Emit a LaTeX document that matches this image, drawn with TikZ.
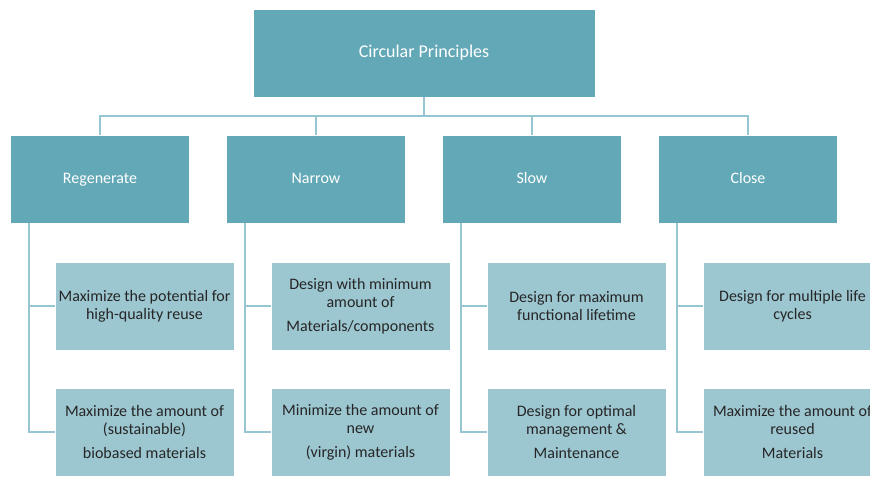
\documentclass[tikz,border=0pt]{standalone}
\usepackage{fontspec}
\setmainfont{Carlito}
\definecolor{darkteal}{RGB}{99,168,183}
\definecolor{lightteal}{RGB}{156,198,208}
\definecolor{linkblue}{RGB}{150,198,210}
\definecolor{textgray}{RGB}{38,38,38}
\begin{document}
\begin{tikzpicture}[x=1pt, y=-1pt]
    \useasboundingbox (0,0) rectangle (870,477);
    \clip (0,0) rectangle (870,477);
    \tikzstyle{every node}=[rectangle, draw=white, line width=0.6pt, inner sep=2pt, align=center]
    \tikzstyle{top}=[fill=darkteal, text=white, minimum width=342pt, minimum height=88pt, font=\fontsize{18}{21}\selectfont]
    \tikzstyle{principle}=[fill=darkteal, text=white, minimum width=179pt, minimum height=88pt, text height=11pt, text depth=3pt, font=\fontsize{16}{19}\selectfont]
    \tikzstyle{action}=[fill=lightteal, text=textgray, minimum width=179pt, minimum height=88pt, font=\fontsize{16}{18}\selectfont]
    \tikzstyle{link}=[linkblue, line width=1.5pt]

    \node[top] (cp) at (424,53) {Circular Principles};

    \node[principle] (reg) at (100,179) {Regenerate};
    \node[principle] (nar) at (316,179) {Narrow};
    \node[principle] (slo) at (532,179) {Slow};
    \node[principle] (clo) at (748,179) {Close};

    \node[action] (reg1) at (144.5,306) {Maximize the potential for\\high-quality reuse};
    \node[action] (reg2) at (144.5,432) {Maximize the amount of\\(sustainable)\\[6pt]biobased materials};
    \node[action] (nar1) at (360.5,306) {Design with minimum\\amount of\\[6pt]Materials/components};
    \node[action] (nar2) at (360.5,432) {Minimize the amount of\\new\\[6pt](virgin) materials};
    \node[action] (slo1) at (576.5,306) {Design for maximum\\functional lifetime};
    \node[action] (slo2) at (576.5,432) {Design for optimal\\management \&\\[6pt]Maintenance};
    \node[action] (clo1) at (792.5,306) {Design for multiple life\\cycles};
    \node[action] (clo2) at (792.5,432) {Maximize the amount of\\reused\\[6pt]Materials};

    \coordinate (bar) at (424,116);
    \draw[link] (cp.south) -- (bar);
    \draw[link] (reg.north) |- (bar) -| (clo.north);
    \draw[link] (nar.north) -- (nar.north |- bar);
    \draw[link] (slo.north) -- (slo.north |- bar);

    % side rails to the actions
    \foreach \p/\q in {reg/reg, nar/nar, slo/slo, clo/clo} {
        \coordinate (\p rail) at ([xshift=-71pt]\p.south);
        \draw[link] (\p rail) |- (\q 1.west);
        \draw[link] (\p rail) |- (\q 2.west);
    }
\end{tikzpicture}
\end{document}
